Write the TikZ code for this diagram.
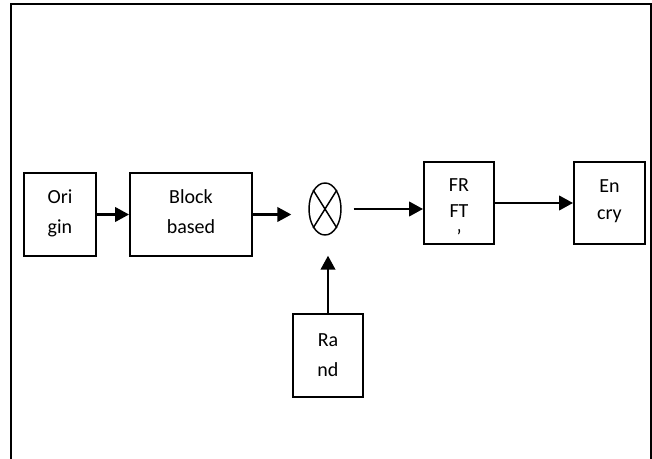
\documentclass[tikz,border=0pt]{standalone}
\usepackage{fontspec}
\setmainfont{Carlito}
\usetikzlibrary{shapes.geometric,arrows.meta}

\begin{document}
\begin{tikzpicture}[x=0.75pt,y=-0.75pt,
   box/.style={draw,line width=1.5pt,inner sep=0pt,align=center,anchor=north west},
   arr/.style={-{Triangle[length=10.5pt,width=11pt]},line width=1.6pt}]
   \useasboundingbox (0,0) rectangle (652,459);
   % Frame
   \draw[line width=1.5pt] (11,459) -- (11,4) -- (651,4) -- (651,459);
   % Top row
   \node[box,minimum width=54pt,text height=45.75pt,text depth=16.5pt,
     font=\fontsize{15}{22.5}\selectfont] (orig) at (23,172) {Ori\\gin};
   \node[box,minimum width=91.5pt,text height=45.75pt,text depth=16.5pt,
     font=\fontsize{15}{22.5}\selectfont] (blk) at (129,172) {Block\\based};
   \node[draw,ellipse,line width=1.1pt,inner sep=0pt,minimum width=24pt,minimum height=39pt] (mul) at (325,209) {};
   \draw[line width=1.1pt] (mul.north west) -- (mul.south east);
   \draw[line width=1.1pt] (mul.north east) -- (mul.south west);
   \node[box,minimum width=52.5pt,text height=61.5pt,text depth=0pt,
     font=\fontsize{15}{19.5}\selectfont] (frft) at (423,161) {FR\\FT\\’};
   \node[box,minimum width=53.25pt,text height=43.5pt,text depth=18pt,
     font=\fontsize{15}{20.25}\selectfont] (encry) at (573,161) {En\\cry};
   % Bottom
   \node[box,minimum width=52.5pt,text height=46.5pt,text depth=15.75pt,
     font=\fontsize{15}{22.5}\selectfont] (rand) at (292,313) {Ra\\nd};
   % Arrows
   \draw[arr] (orig.east) -- (orig.east -| blk.west);
   \draw[arr,shorten >=12.75pt] (blk.east) -- (blk.east -| mul.west);
   \draw[arr,shorten <=9pt] (mul.east) -- (mul.east -| frft.west);
   \draw[arr] (frft.east) -- (encry.west);
   \draw[arr,shorten >=15pt] (rand.north) -- (rand.north |- mul.south);
\end{tikzpicture}
\end{document}
